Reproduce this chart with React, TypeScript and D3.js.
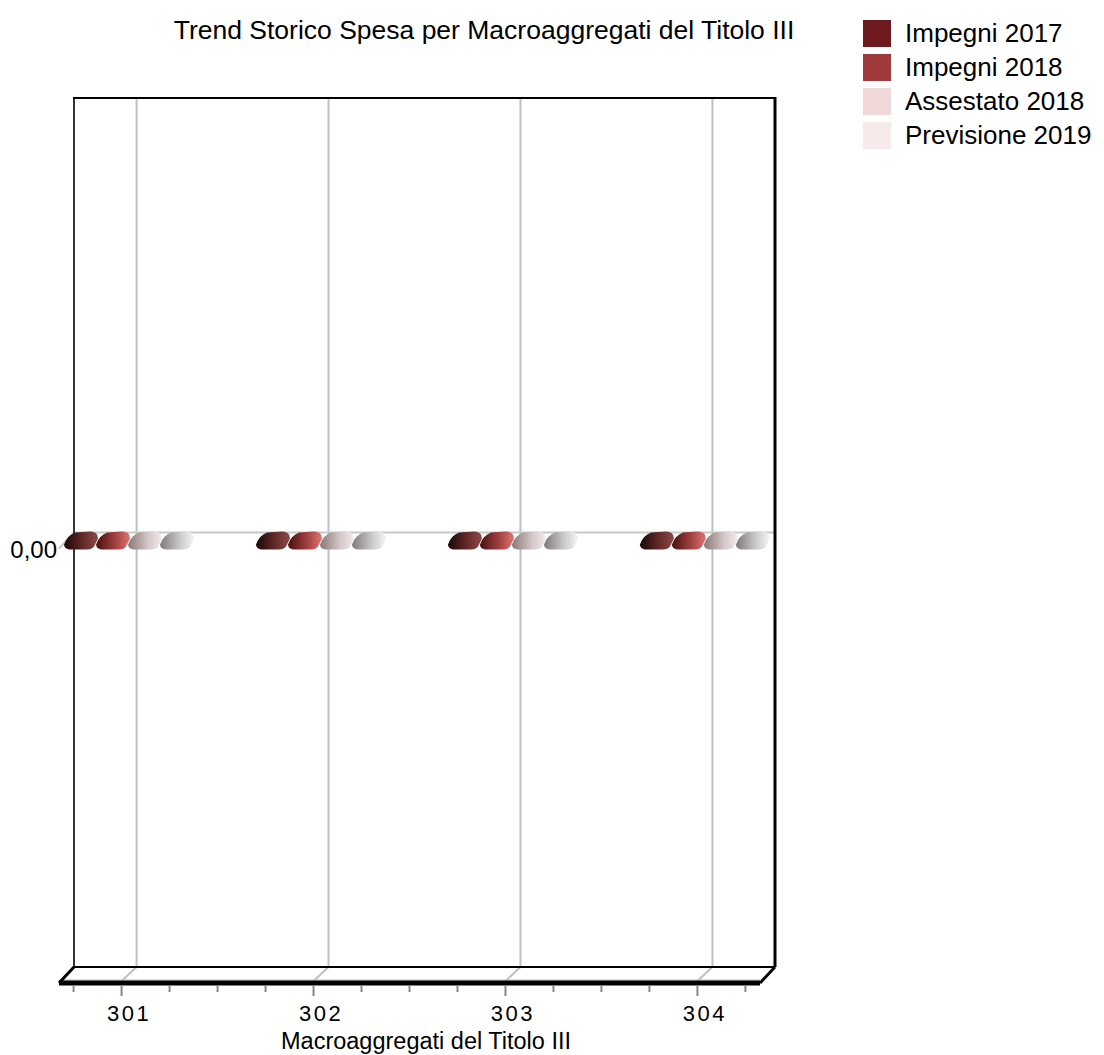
import React from "react";
import * as d3 from "d3";

const categories = ["301", "302", "303", "304"];
const seriesNames = ["Impegni 2017", "Impegni 2018", "Assestato 2018", "Previsione 2019"];
const impegni2017 = [0, 0, 0, 0];
const impegni2018 = [0, 0, 0, 0];
const assestato2018 = [0, 0, 0, 0];
const previsione2019 = [0, 0, 0, 0];
const yTickValues = [0];
const yTickLabels = ["0,00"];
const legendColors = ["#6e1a1e", "#a03a3a", "#f0d8d8", "#f6e9e9"];
const barGradients = [
  ["#1a0606", "#6a2c2c", "#8e4a4a"],
  ["#4a0e0e", "#a84444", "#e27474"],
  ["#8a7878", "#d4c8c8", "#f2ecec"],
  ["#807a7a", "#cccaca", "#f6f6f6"],
];

const allSeries = [impegni2017, impegni2018, assestato2018, previsione2019];

const FONT = "'Liberation Sans', Arial, sans-serif";

export default function App() {
  const W = 1104;
  const H = 1055;
  const left = 74;
  const right = 775;
  const top = 98;
  const bottom = 967;
  const dx = -15;
  const dy = 16;

  const x = d3.scalePoint<string>().domain(categories).range([left, right]).padding(0.326);
  const y = d3.scaleLinear().domain([-1, 1]).range([bottom, top]);
  const sx = d3.scalePoint<number>().domain([0, 1, 2, 3]).range([-48, 48]);
  const step = x.step();

  const ticks: { x: number; major: boolean }[] = [];
  categories.forEach((c) => {
    const fc = (x(c) as number) + dx;
    [-0.25, 0, 0.25, 0.5].forEach((o) => {
      const tx = fc + o * step;
      if (tx >= left + dx - 1 && tx <= right + dx) ticks.push({ x: tx, major: o === 0 });
    });
  });

  const blob = (cx: number, cy: number) =>
    `M${cx - 17},${cy + 4} Q${cx - 14},${cy - 5} ${cx - 6},${cy - 8} L${cx + 9},${cy - 9} Q${cx + 17},${cy - 9} ${cx + 17},${cy - 2} L${cx + 13},${cy + 6} Q${cx + 11},${cy + 9} ${cx + 6},${cy + 9} L${cx - 12},${cy + 9} Q${cx - 17},${cy + 8} ${cx - 17},${cy + 4} Z`;

  return (
    <svg width={W} height={H} style={{ position: "absolute", left: 0, top: 0, background: "#fff" }}>
      <defs>
        {barGradients.map((g, i) => (
          <linearGradient key={i} id={`g${i}`} x1="0" x2="1" y1="0" y2="0">
            <stop offset="0" stopColor={g[0]} />
            <stop offset="0.6" stopColor={g[1]} />
            <stop offset="1" stopColor={g[2]} />
          </linearGradient>
        ))}
      </defs>

      {/* title */}
      <text x={484} y={39} textAnchor="middle" fontFamily={FONT} fontSize={26.5} fill="#000">
        Trend Storico Spesa per Macroaggregati del Titolo III
      </text>

      {/* vertical grid lines */}
      {categories.map((c) => {
        const gx = x(c) as number;
        return (
          <g key={c}>
            <line x1={gx} x2={gx} y1={top} y2={bottom} stroke="#c0c0c0" strokeWidth={2} />
            <line x1={gx} x2={gx + dx} y1={bottom} y2={bottom + dy - 2} stroke="#c0c0c0" strokeWidth={2} />
          </g>
        );
      })}

      {/* zero grid line */}
      {yTickValues.map((v) => (
        <g key={v}>
          <line x1={left} x2={right} y1={y(v)} y2={y(v)} stroke="#c8c8c8" strokeWidth={2} />
          <line x1={left} x2={left + dx} y1={y(v)} y2={y(v) + dy} stroke="#c8c8c8" strokeWidth={2} />
        </g>
      ))}

      {/* frame */}
      <line x1={left} x2={left} y1={top} y2={bottom} stroke="#333" strokeWidth={2} />
      <line x1={left - 1} x2={right + 1} y1={top} y2={top} stroke="#000" strokeWidth={2} />
      <line x1={right} x2={right} y1={top - 1} y2={bottom} stroke="#000" strokeWidth={3} />
      <line x1={left} x2={right} y1={bottom} y2={bottom} stroke="#000" strokeWidth={2} />
      <line x1={left + dx} x2={right + dx} y1={bottom + dy - 3} y2={bottom + dy - 3} stroke="#bbb" strokeWidth={1} />
      <line x1={left + dx} x2={right + dx} y1={bottom + dy} y2={bottom + dy} stroke="#000" strokeWidth={5} />
      <line x1={left} x2={left + dx} y1={bottom} y2={bottom + dy} stroke="#000" strokeWidth={3} />
      <line x1={right} x2={right + dx} y1={bottom} y2={bottom + dy} stroke="#000" strokeWidth={3} />

      {/* ticks */}
      {ticks.map((t, i) => (
        <line key={i} x1={t.x} x2={t.x} y1={bottom + dy + 3} y2={bottom + dy + (t.major ? 13 : 9)} stroke="#888" strokeWidth={2} />
      ))}

      {/* bars (zero values, flattened 3D shapes) */}
      {categories.map((c, ci) =>
        allSeries.map((s, si) => {
          const cx = (x(c) as number) + dx / 2 + (sx(si) as number);
          const cy = y(s[ci]) + dy / 2;
          return <path key={`${ci}-${si}`} d={blob(cx, cy)} fill={`url(#g${si})`} />;
        })
      )}

      {/* y labels */}
      {yTickValues.map((v, i) => (
        <text key={v} x={57} y={558} textAnchor="end" fontFamily={FONT} fontSize={24} fill="#000">
          {yTickLabels[i]}
        </text>
      ))}

      {/* x labels */}
      {categories.map((c) => (
        <text key={c} x={(x(c) as number) + dx / 2} y={1021} textAnchor="middle" fontFamily={FONT} fontSize={22} letterSpacing={2.5} fill="#000">
          {c}
        </text>
      ))}
      <text x={426} y={1049} textAnchor="middle" fontFamily={FONT} fontSize={23.5} fill="#000">
        Macroaggregati del Titolo III
      </text>

      {/* legend */}
      {seriesNames.map((n, i) => (
        <g key={n} transform={`translate(863, ${20 + i * 34})`}>
          <rect width={28} height={27} fill={legendColors[i]} />
          <text x={42} y={22} fontFamily={FONT} fontSize={26} fill="#000">
            {n}
          </text>
        </g>
      ))}
    </svg>
  );
}
